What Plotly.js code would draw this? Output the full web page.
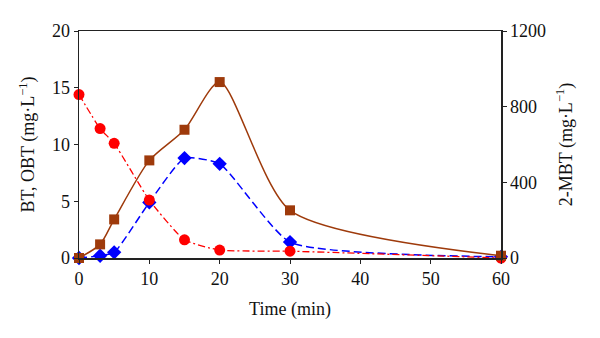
<!DOCTYPE html>
<html>
<head>
<meta charset="utf-8">
<script src="https://cdn.plot.ly/plotly-3.0.1.min.js"></script>
<style>body{margin:0;background:#fff}#plotArea{width:600px;height:338px}</style>
</head>
<body>
<div id="plotArea"></div>
<script>
// sampling times (min)
var time = [0, 3, 5, 10, 15, 20, 30, 60];

// concentrations
var bt = [14.4, 11.4, 10.1, 5.1, 1.6, 0.7, 0.6, 0];        // left axis
var obt = [0, 0.2, 0.5, 4.9, 8.8, 8.3, 1.4, 0.1];          // left axis
var mbt = [0, 72, 204, 516, 678, 930, 252, 12];            // right axis

var xTicks = [0, 10, 20, 30, 40, 50, 60];
var yTicks = [0, 5, 10, 15, 20];
var y2Ticks = [0, 400, 800, 1200];

var font = {family: 'Liberation Serif, Times New Roman, serif', size: 18, color: '#111'};

var mbtTrace = {
    x: time, y: mbt, yaxis: 'y2',
    mode: 'lines+markers', type: 'scatter', cliponaxis: false,
    line: {color: '#9E3A0B', width: 1.5, shape: 'spline', smoothing: 0.7},
    marker: {symbol: 'square', size: 10, color: '#9E3A0B'}
};

var obtTrace = {
    x: time, y: obt,
    mode: 'lines+markers', type: 'scatter', cliponaxis: false,
    line: {color: '#0000FF', width: 1.5, dash: '8px,4px', shape: 'spline', smoothing: 0.5},
    marker: {symbol: 'diamond', size: 11, color: '#0000FF'}
};

var btTrace = {
    x: time, y: bt,
    mode: 'lines+markers', type: 'scatter', cliponaxis: false,
    line: {color: '#FF0000', width: 1.3, dash: '7px,3px,2px,3px', shape: 'spline', smoothing: 0.5},
    marker: {symbol: 'circle', size: 11, color: '#FF0000'}
};

var layout = {
    width: 600, height: 338,
    margin: {l: 79, r: 99, t: 31, b: 80},
    paper_bgcolor: '#fff', plot_bgcolor: '#fff',
    showlegend: false,
    font: font,
    xaxis: {
        range: [0, 60], tickvals: xTicks,
        showgrid: false, zeroline: false,
        showline: true, mirror: true, linecolor: '#222', linewidth: 1.5,
        ticks: 'outside', ticklen: 4, tickcolor: '#222',
        title: {text: 'Time (min)', font: font, standoff: 14}
    },
    yaxis: {
        range: [0, 20], tickvals: yTicks,
        showgrid: false, zeroline: false,
        showline: true, linecolor: '#222', linewidth: 1.5,
        ticks: 'outside', ticklen: 4, tickcolor: '#222',
        title: {text: 'BT, OBT (mg\u00B7L<sup>\u22121</sup>)', font: font, standoff: 12}
    },
    yaxis2: {
        range: [0, 1200], tickvals: y2Ticks,
        overlaying: 'y', side: 'right',
        showgrid: false, zeroline: false,
        showline: true, linecolor: '#222', linewidth: 1.5,
        ticks: 'outside', ticklen: 4, tickcolor: '#222',
        title: {text: '2-MBT (mg\u00B7L<sup>\u22121</sup>)', font: font, standoff: 14}
    }
};

Plotly.newPlot('plotArea', [mbtTrace, obtTrace, btTrace], layout, {staticPlot: true});
</script>
</body>
</html>
